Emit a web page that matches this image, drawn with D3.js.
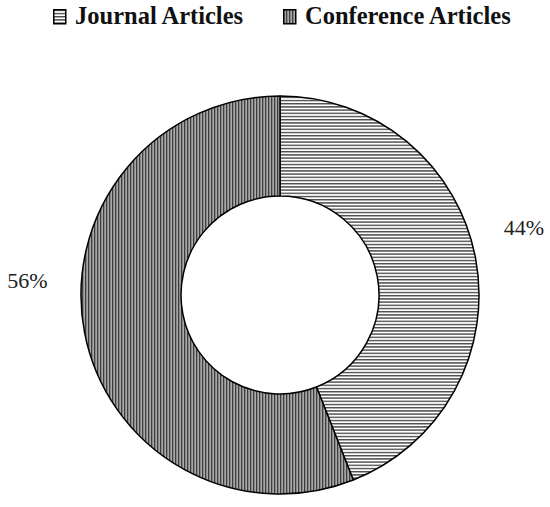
<!DOCTYPE html>
<html>
<head>
<meta charset="utf-8">
<script src="https://cdn.jsdelivr.net/npm/d3@7"></script>
<style>
  html, body { margin: 0; padding: 0; background: #fff; }
  svg { display: block; }
</style>
</head>
<body>
<div id="chart"></div>
<script>
// data
const categories = ["Journal Articles", "Conference Articles"]
const shares = [44, 56]
const labels = ["44%", "56%"]

const width = 550
const height = 507
const cx = 280, cy = 295
const outerR = 199, innerR = 99
// where the % labels sit (deg clockwise from top, distance from centre)
const labelSpots = [[74.6, 253], [273.4, 253]]

const svg = d3.select("#chart")
  .append("svg")
  .attr("width", width)
  .attr("height", height)

const defs = svg.append("defs")

// horizontal hatch
const hp = defs.append("pattern")
  .attr("id", "hatchH")
  .attr("patternUnits", "userSpaceOnUse")
  .attr("width", 6).attr("height", 3.2)
hp.append("rect").attr("width", 6).attr("height", 3.2).attr("fill", "#fff")
hp.append("rect").attr("y", 0).attr("width", 6).attr("height", 1.4).attr("fill", "#4a4a4a")

// vertical hatch, gray
const vp = defs.append("pattern")
  .attr("id", "hatchV")
  .attr("patternUnits", "userSpaceOnUse")
  .attr("width", 3).attr("height", 6)
vp.append("rect").attr("width", 3).attr("height", 6).attr("fill", "#a8a8a8")
vp.append("rect").attr("x", 0).attr("width", 1.3).attr("height", 6).attr("fill", "#3e3e3e")

const fills = ["url(#hatchH)", "url(#hatchV)"]

const pie = d3.pie().sort(null).value(d => d)
const arc = d3.arc().innerRadius(innerR).outerRadius(outerR)

const g = svg.append("g").attr("transform", `translate(${cx},${cy})`)

g.selectAll("path.slice")
  .data(pie(shares))
  .enter()
    .append("path")
    .attr("class", "slice")
    .attr("d", arc)
    .attr("fill", (d, i) => fills[i])
    .attr("stroke", "#000")
    .attr("stroke-width", 1.5)
    .attr("stroke-linejoin", "round")

g.selectAll("text.pct")
  .data(labels)
  .enter()
    .append("text")
    .attr("class", "pct")
    .attr("x", (d, i) => Math.sin(labelSpots[i][0] * Math.PI / 180) * labelSpots[i][1])
    .attr("y", (d, i) => -Math.cos(labelSpots[i][0] * Math.PI / 180) * labelSpots[i][1])
    .attr("text-anchor", "middle")
    .attr("dominant-baseline", "central")
    .attr("font-family", "'Liberation Serif', serif")
    .attr("font-size", 22)
    .attr("fill", "#222")
    .text(d => d)

// legend
const legendX = [53, 283]
const legend = svg.append("g").attr("class", "legend")
const items = legend.selectAll("g.item")
  .data(categories)
  .enter()
    .append("g")
    .attr("class", "item")
    .attr("transform", (d, i) => `translate(${legendX[i]},0)`)

items.append("rect")
  .attr("x", 0.75).attr("y", 9.75)
  .attr("width", 12).attr("height", 14)
  .attr("fill", (d, i) => fills[i])
  .attr("stroke", "#000")
  .attr("stroke-width", 1.5)

items.append("text")
  .attr("x", 22)
  .attr("y", 24)
  .attr("font-family", "'Liberation Serif', serif")
  .attr("font-weight", "bold")
  .attr("font-size", 24.5)
  .attr("fill", "#111")
  .text(d => d)
</script>
</body>
</html>
